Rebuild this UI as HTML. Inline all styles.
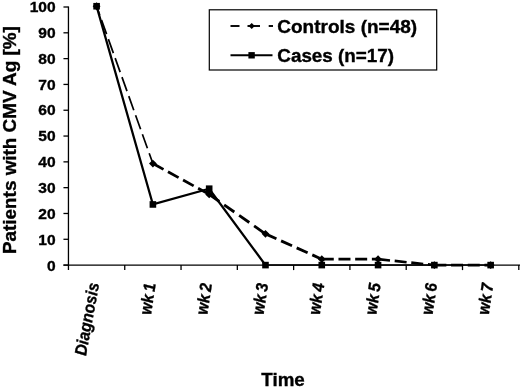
<!DOCTYPE html>
<html><head><meta charset="utf-8"><title>chart</title>
<style>
html,body{margin:0;padding:0;background:#fff;}
svg{display:block;filter:blur(0.3px);}
text{font-family:"Liberation Sans",sans-serif;font-weight:bold;fill:#000;stroke:#000;stroke-width:0.35px;}
</style></head><body>
<svg width="520" height="387" viewBox="0 0 520 387">
<rect width="520" height="387" fill="#fff"/>

<g stroke="#000" stroke-width="1.3" fill="none">
<line x1="68.45" y1="6.5" x2="68.45" y2="270.1"/>
<line x1="63.45" y1="265.1" x2="520.1999999999999" y2="265.1"/>
<line x1="63.45" y1="265.10" x2="68.45" y2="265.10"/>
<line x1="63.45" y1="239.29" x2="68.45" y2="239.29"/>
<line x1="63.45" y1="213.48" x2="68.45" y2="213.48"/>
<line x1="63.45" y1="187.67" x2="68.45" y2="187.67"/>
<line x1="63.45" y1="161.86" x2="68.45" y2="161.86"/>
<line x1="63.45" y1="136.05" x2="68.45" y2="136.05"/>
<line x1="63.45" y1="110.24" x2="68.45" y2="110.24"/>
<line x1="63.45" y1="84.43" x2="68.45" y2="84.43"/>
<line x1="63.45" y1="58.62" x2="68.45" y2="58.62"/>
<line x1="63.45" y1="32.81" x2="68.45" y2="32.81"/>
<line x1="63.45" y1="7.00" x2="68.45" y2="7.00"/>
<line x1="124.74" y1="265.1" x2="124.74" y2="270.1"/>
<line x1="181.04" y1="265.1" x2="181.04" y2="270.1"/>
<line x1="237.33" y1="265.1" x2="237.33" y2="270.1"/>
<line x1="293.62" y1="265.1" x2="293.62" y2="270.1"/>
<line x1="349.92" y1="265.1" x2="349.92" y2="270.1"/>
<line x1="406.21" y1="265.1" x2="406.21" y2="270.1"/>
<line x1="462.51" y1="265.1" x2="462.51" y2="270.1"/>
<line x1="518.80" y1="265.1" x2="518.80" y2="270.1"/>
</g>
<text transform="translate(55.6 271.05) scale(1.03 1)" font-size="15.1" text-anchor="end">0</text>
<text transform="translate(55.6 245.12) scale(1.03 1)" font-size="15.1" text-anchor="end">10</text>
<text transform="translate(55.6 219.18) scale(1.03 1)" font-size="15.1" text-anchor="end">20</text>
<text transform="translate(55.6 193.25) scale(1.03 1)" font-size="15.1" text-anchor="end">30</text>
<text transform="translate(55.6 167.31) scale(1.03 1)" font-size="15.1" text-anchor="end">40</text>
<text transform="translate(55.6 141.38) scale(1.03 1)" font-size="15.1" text-anchor="end">50</text>
<text transform="translate(55.6 115.44) scale(1.03 1)" font-size="15.1" text-anchor="end">60</text>
<text transform="translate(55.6 89.51) scale(1.03 1)" font-size="15.1" text-anchor="end">70</text>
<text transform="translate(55.6 63.57) scale(1.03 1)" font-size="15.1" text-anchor="end">80</text>
<text transform="translate(55.6 37.63) scale(1.03 1)" font-size="15.1" text-anchor="end">90</text>
<text transform="translate(55.6 11.70) scale(1.03 1)" font-size="15.1" text-anchor="end">100</text>
<line x1="96.60" y1="6.23" x2="152.89" y2="163.54" stroke="#000" stroke-width="1.7" stroke-dasharray="14.9 5.3" stroke-dashoffset="5.5"/>
<line x1="152.89" y1="163.54" x2="209.18" y2="194.38" stroke="#000" stroke-width="2.8" stroke-dasharray="12.1 5.1" stroke-dashoffset="0"/>
<line x1="209.18" y1="194.38" x2="265.48" y2="233.87" stroke="#000" stroke-width="2.8" stroke-dasharray="12.4 5.9" stroke-dashoffset="0"/>
<line x1="265.48" y1="233.87" x2="321.77" y2="259.16" stroke="#000" stroke-width="2.8" stroke-dasharray="12 5.1" stroke-dashoffset="0"/>
<line x1="321.77" y1="259.16" x2="378.07" y2="259.16" stroke="#000" stroke-width="2.6" stroke-dasharray="12 4.7" stroke-dashoffset="0"/>
<line x1="378.07" y1="259.16" x2="434.36" y2="265.10" stroke="#000" stroke-width="2.6" stroke-dasharray="12 4.7" stroke-dashoffset="0"/>
<line x1="434.36" y1="265.10" x2="490.65" y2="265.10" stroke="#000" stroke-width="2.6" stroke-dasharray="12 4.7" stroke-dashoffset="0"/>
<polyline points="96.60,6.23 152.89,204.45 209.18,188.70 265.48,265.10" fill="none" stroke="#000" stroke-width="2.3"/>
<line x1="265.48" y1="264.90000000000003" x2="490.65" y2="264.90000000000003" stroke="#000" stroke-width="1.5"/>
<path d="M92.70 6.23L96.60 2.33L100.50 6.23L96.60 10.13Z" fill="#000"/>
<path d="M148.99 163.54L152.89 159.64L156.79 163.54L152.89 167.44Z" fill="#000"/>
<path d="M205.28 194.38L209.18 190.48L213.08 194.38L209.18 198.28Z" fill="#000"/>
<path d="M261.58 233.87L265.48 229.97L269.38 233.87L265.48 237.77Z" fill="#000"/>
<path d="M317.87 259.16L321.77 255.26L325.67 259.16L321.77 263.06Z" fill="#000"/>
<path d="M374.17 259.16L378.07 255.26L381.97 259.16L378.07 263.06Z" fill="#000"/>
<path d="M430.46 265.10L434.36 261.20L438.26 265.10L434.36 269.00Z" fill="#000"/>
<path d="M486.75 265.10L490.65 261.20L494.55 265.10L490.65 269.00Z" fill="#000"/>
<rect x="93.30" y="2.93" width="6.6" height="6.6" fill="#000"/>
<rect x="149.59" y="201.15" width="6.6" height="6.6" fill="#000"/>
<rect x="205.88" y="185.40" width="6.6" height="6.6" fill="#000"/>
<rect x="262.18" y="261.80" width="6.6" height="6.6" fill="#000"/>
<rect x="318.47" y="261.80" width="6.6" height="6.6" fill="#000"/>
<rect x="374.77" y="261.80" width="6.6" height="6.6" fill="#000"/>
<rect x="431.06" y="261.80" width="6.6" height="6.6" fill="#000"/>
<rect x="487.35" y="261.80" width="6.6" height="6.6" fill="#000"/>
<rect x="209.3" y="9.8" width="227.4" height="60.2" fill="#fff" stroke="#000" stroke-width="1.2"/>
<g stroke="#000" stroke-width="1.9"><line x1="230.5" y1="26" x2="239.5" y2="26"/><line x1="247.5" y1="26" x2="260" y2="26"/><line x1="268.7" y1="26" x2="273" y2="26"/><line x1="230.5" y1="55.3" x2="272.5" y2="55.3"/></g>
<path d="M248.6 26L251.7 22.9L254.8 26L251.7 29.1Z" fill="#000"/>
<rect x="248.4" y="52.1" width="6.4" height="6.4" fill="#000"/>
<text x="277.3" y="32.8" font-size="18" textLength="139.8" lengthAdjust="spacingAndGlyphs">Controls (n=48)</text>
<text x="277.3" y="61.8" font-size="18" textLength="116.8" lengthAdjust="spacingAndGlyphs">Cases (n=17)</text>
<text transform="translate(15.6 254) rotate(-90)" font-size="18.2" textLength="227.8" lengthAdjust="spacingAndGlyphs">Patients with CMV Ag [%]</text>
<text x="261.3" y="385.5" font-size="19" textLength="43.5" lengthAdjust="spacingAndGlyphs">Time</text>
<text transform="translate(99.40 283.4) rotate(-79.5) scale(0.92 1) skewX(5)" font-size="16.8" font-style="italic" text-anchor="end" word-spacing="-1.6">Diagnosis</text>
<text transform="translate(155.69 283.4) rotate(-81.5) scale(0.92 1) skewX(5)" font-size="16.8" font-style="italic" text-anchor="end" word-spacing="-1.6">wk 1</text>
<text transform="translate(211.98 283.4) rotate(-81.5) scale(0.92 1) skewX(5)" font-size="16.8" font-style="italic" text-anchor="end" word-spacing="-1.6">wk 2</text>
<text transform="translate(268.28 283.4) rotate(-81.5) scale(0.92 1) skewX(5)" font-size="16.8" font-style="italic" text-anchor="end" word-spacing="-1.6">wk 3</text>
<text transform="translate(324.57 283.4) rotate(-81.5) scale(0.92 1) skewX(5)" font-size="16.8" font-style="italic" text-anchor="end" word-spacing="-1.6">wk 4</text>
<text transform="translate(380.87 283.4) rotate(-81.5) scale(0.92 1) skewX(5)" font-size="16.8" font-style="italic" text-anchor="end" word-spacing="-1.6">wk 5</text>
<text transform="translate(437.16 283.4) rotate(-81.5) scale(0.92 1) skewX(5)" font-size="16.8" font-style="italic" text-anchor="end" word-spacing="-1.6">wk 6</text>
<text transform="translate(493.45 283.4) rotate(-81.5) scale(0.92 1) skewX(5)" font-size="16.8" font-style="italic" text-anchor="end" word-spacing="-1.6">wk 7</text>
</svg></body></html>
